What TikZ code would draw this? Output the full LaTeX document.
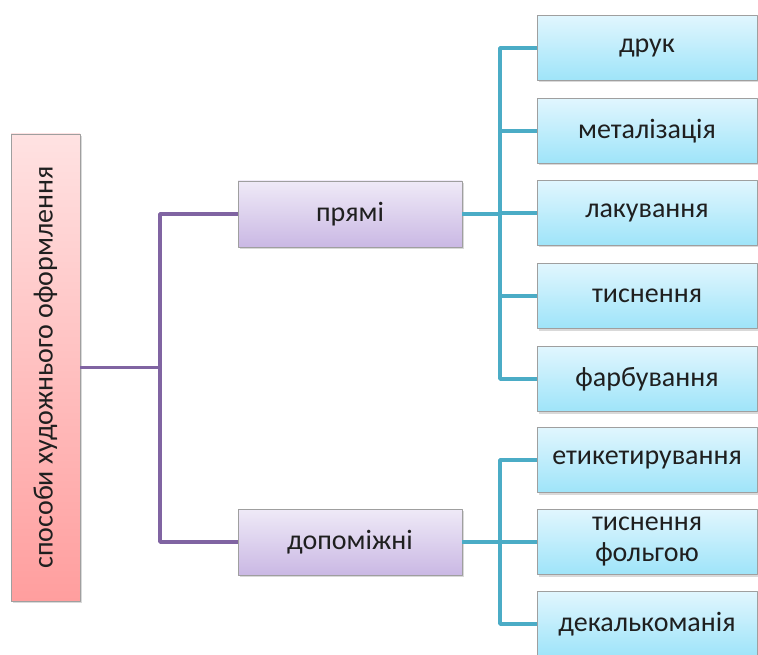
\documentclass[tikz,border=0pt]{standalone}
\usepackage{fontspec}
\setmainfont{Carlito}
\usetikzlibrary{shadows}
\definecolor{lilaline}{RGB}{128,100,162}
\definecolor{tealline}{RGB}{75,172,198}
\begin{document}
\begin{tikzpicture}[x=1pt,y=-1pt,line join=round,
    box/.style={draw=gray!75,line width=0.6pt,inner sep=2pt,align=center,text=black!88,
      font=\fontsize{28}{31}\selectfont,
      drop shadow={opacity=0.3,shadow xshift=1.5pt,shadow yshift=-2pt}},
    rootbox/.style={box,minimum width=69pt,minimum height=467pt,top color={rgb,255:red,255;green,226;blue,226},bottom color={rgb,255:red,255;green,158;blue,158}},
    lilabox/.style={box,minimum width=224pt,minimum height=66pt,top color={rgb,255:red,239;green,234;blue,247},bottom color={rgb,255:red,202;green,184;blue,228}},
    bluebox/.style={box,minimum width=220pt,minimum height=65pt,top color={rgb,255:red,225;green,246;blue,254},bottom color={rgb,255:red,158;green,228;blue,249}},
    lila/.style={draw=lilaline,line width=3.6pt},
    teal/.style={draw=tealline,line width=3.6pt}]
\useasboundingbox (0,0) rectangle (758,655);
\node[rootbox] (root) at (45.5,367.5) {\rotatebox{90}{способи художнього оформлення}};
\node[lilabox] (pryami) at (350,214) {прямі};
\node[lilabox] (dopom) at (350,542) {допоміжні};
\foreach \i/\y/\t in {1/48/друк,2/131/металізація,3/213/лакування,4/296/тиснення,5/379/фарбування,6/460/етикетирування,7/542/тиснення\\фольгою,8/624/декалькоманія}
    \node[bluebox] (r\i) at (647,\y) {\t};
\coordinate (rj) at (160,367.5);
\coordinate (pj) at (500,214);
\coordinate (dj) at (500,542);
\draw[lila] (root.east) -- (rj) (pryami.west) -| (rj) |- (dopom.west);
\draw[teal] (pryami.east) -- (pj);
\foreach \i in {1,...,5}\draw[teal] (pj) |- (r\i.west);
\draw[teal] (dopom.east) -- (dj);
\foreach \i in {6,7,8}\draw[teal] (dj) |- (r\i.west);
\end{tikzpicture}
\end{document}
